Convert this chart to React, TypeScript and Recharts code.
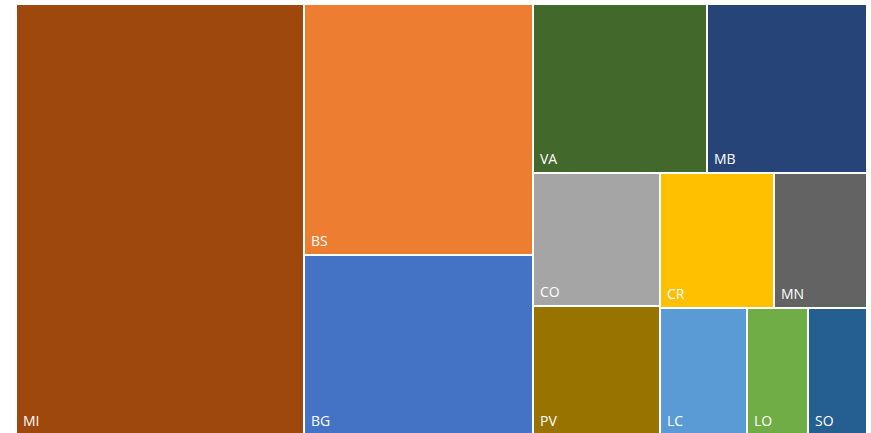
import React from 'react';
import { Treemap } from 'recharts';

const categories = ['MI', 'BS', 'BG', 'VA', 'MB', 'CO', 'PV', 'CR', 'MN', 'LC', 'LO', 'SO'];
const values = [339, 157, 112, 80, 74, 46, 45, 42, 34, 30, 21, 20];
const colors = [
  '#9E480E', '#ED7D31', '#4472C4', '#43682B', '#264478', '#A5A5A5',
  '#997300', '#FFC000', '#636363', '#5B9BD5', '#70AD47', '#255E91',
];

const data = categories.map((name, i) => ({ name, size: values[i] }));

const CellContent = (props: any) => {
  const { x, y, width, height, depth, index, name } = props;
  if (depth !== 1) return null;
  return (
    <g>
      <rect
        x={x}
        y={y}
        width={width}
        height={height}
        fill={colors[index % colors.length]}
        stroke="#ffffff"
        strokeWidth={2}
      />
      <text
        x={x + 7}
        y={y + height - 9}
        fill="#ffffff"
        stroke="none"
        fontSize={14}
        fontWeight={400}
        fontFamily="'Open Sans', Lato, sans-serif"
      >
        {name}
      </text>
    </g>
  );
};

export default function App() {
  return (
    <div style={{ position: 'absolute', left: 0, top: 0, width: 871, height: 433, overflow: 'hidden', background: '#fff' }}>
      <div style={{ position: 'absolute', left: 16, top: 4 }}>
        <Treemap
          width={851}
          height={431}
          data={data}
          dataKey="size"
          nameKey="name"
          aspectRatio={1.2}
          isAnimationActive={false}
          stroke="#ffffff"
          content={<CellContent />}
        />
      </div>
    </div>
  );
}
